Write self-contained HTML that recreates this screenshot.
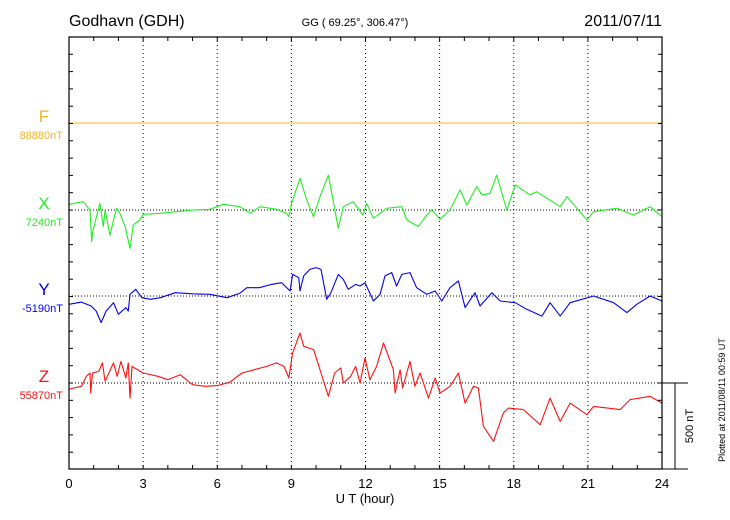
<!DOCTYPE html>
<html><head><meta charset="utf-8"><style>
body{margin:0;background:#fff}
svg{display:block;font-family:"Liberation Sans",sans-serif}
</style></head><body>
<svg id="chart" width="730" height="520">
<text x="69" y="26" font-size="16">Godhavn (GDH)</text>
<text x="355" y="26" font-size="11" text-anchor="middle">GG ( 69.25°, 306.47°)</text>
<text x="662" y="26" font-size="16" text-anchor="end">2011/07/11</text>
<text x="365" y="503" font-size="13" text-anchor="middle">U T (hour)</text>
<text transform="translate(725,400) rotate(-90)" font-size="9" text-anchor="middle">Plotted at 2011/08/11 00:59 UT</text>
<text transform="translate(693,426) rotate(-90)" font-size="11" text-anchor="middle">500 nT</text>
<g id="grid"></g><g id="series"></g><g id="axes"></g>
</svg>
<script>
const xTicks=[0,3,6,9,12,15,18,21,24];
const comps=["F","X","Y","Z"];
const baseLabels=["88880nT","7240nT","-5190nT","55870nT"];
const fT=[0,24];
const fV=[0,0];
const xT=[0,0.58,0.85,0.92,0.96,1.25,1.39,1.46,1.66,1.8,1.93,2.06,2.27,2.47,2.6,2.87,3.0,3.68,4.36,5.03,5.7,6.25,6.92,7.33,7.73,8.4,8.8,8.9,9.01,9.35,9.6,9.89,10.16,10.5,10.9,11.1,11.5,11.9,12.05,12.32,12.86,13.47,13.67,14.14,14.48,14.68,15.02,15.42,15.83,16.1,16.5,16.71,17.04,17.31,17.72,18.06,18.66,18.93,19.88,20.15,20.96,21.23,22.17,22.85,23.52,24];
const xV=[33,48,0,-183,-125,39,-96,0,-145,-58,10,-19,-96,-222,-87,-58,-25,-19,-10,0,4,33,19,-19,19,4,-19,-39,39,183,67,-39,77,202,-106,19,48,-29,39,-48,10,19,-58,-96,-29,0,-54,0,116,29,135,87,96,202,0,145,87,106,19,77,-58,-10,10,-29,19,-39];
const yT=[0,0.5,0.9,1.1,1.3,1.5,1.8,2.0,2.3,2.4,2.47,2.7,2.95,3.3,3.7,4.3,5.0,5.7,6.4,6.9,7.2,7.7,8.2,8.6,8.95,9.05,9.3,9.35,9.5,9.75,10.0,10.2,10.43,10.6,10.9,11.1,11.3,11.6,11.78,11.98,12.32,12.59,12.79,13.06,13.26,13.47,13.8,14.07,14.48,14.82,15.09,15.42,15.76,16.03,16.43,16.64,17.11,17.45,18.06,18.53,19.14,19.47,19.88,20.28,21.23,22.04,22.58,22.98,23.52,24];
const yV=[-48,-35,-58,-87,-154,-87,-39,-106,-67,-87,10,39,-10,-19,-10,19,13,10,-10,15,48,48,67,77,29,125,106,29,116,154,164,154,-19,19,125,96,39,67,58,77,-29,10,116,135,58,125,135,48,10,29,-29,48,87,-67,19,-58,19,-29,-39,-77,-116,-39,-116,-39,0,-39,-96,-48,0,-29];
const zT=[0,0.5,0.7,0.85,0.88,0.95,1.2,1.35,1.46,1.8,1.95,2.1,2.3,2.4,2.47,2.55,3.0,3.6,4.0,4.5,5.0,5.5,6.0,6.5,7.0,7.5,8.0,8.4,8.7,8.9,9.05,9.35,9.5,9.9,10.2,10.5,10.75,11.0,11.1,11.4,11.6,11.78,11.98,12.18,12.45,12.73,13.13,13.2,13.4,13.5,13.8,14.0,14.21,14.55,14.82,15.02,15.42,15.76,16.03,16.37,16.57,16.77,17.18,17.58,17.78,18.39,19.07,19.47,19.88,20.28,20.96,21.23,22.31,22.71,23.52,24];
const zV=[-35,-19,39,58,-58,58,67,116,10,116,39,125,29,116,-87,96,58,39,19,48,-10,-19,-15,4,58,77,96,116,96,29,173,289,212,193,58,-77,58,87,0,39,96,0,145,19,96,231,77,-58,77,-29,125,-19,58,-87,29,-58,-19,58,-116,-19,-29,-250,-337,-173,-145,-154,-241,-87,-222,-116,-183,-135,-154,-96,-77,-116];
const seriesT=[fT,xT,yT,zT], seriesV=[fV,xV,yV,zV];
const colors=["#f5b324","#22ee22","#0000ee","#ff1010"];
const L=69,R=662,T=37,B=469,bases=[123,210,296,383],pxPerNT=17.3/100;
const sx=h=>L+(R-L)*h/24;
const sy=(i,v)=>bases[i]-v*pxPerNT;
const NS="http://www.w3.org/2000/svg";
function mk(tag,a,p){const e=document.createElementNS(NS,tag);for(const k in a)e.setAttribute(k,a[k]);p.appendChild(e);return e;}
const g=document.getElementById('grid'),s=document.getElementById('series'),ax=document.getElementById('axes');
xTicks.forEach(h=>{if(h>0&&h<24){const l=mk('line',{x1:sx(h),x2:sx(h),y1:T,y2:B,stroke:'#000','stroke-width':1,'stroke-dasharray':'1,3'},g);

}
const t=mk('text',{x:sx(h),y:488,'font-size':13,'text-anchor':'middle'},ax);t.textContent=h;

});
comps.forEach((c,i)=>{
const l=mk('line',{x1:L,x2:R,y1:bases[i],y2:bases[i],stroke:'#000','stroke-width':1,'stroke-dasharray':'1,2'},g);


const t=mk('text',{x:44,y:bases[i]-1,'font-size':17,'text-anchor':'middle',fill:colors[i]},ax);t.textContent=c;


const b=mk('text',{x:63,y:bases[i]+16,'font-size':11,'text-anchor':'end',fill:colors[i]},ax);b.textContent=baseLabels[i];


const pts=seriesT[i].map((h,j)=>sx(h).toFixed(1)+','+sy(i,seriesV[i][j]).toFixed(1)).join(' ');
const p=mk('polyline',{points:pts,fill:'none',stroke:colors[i],'stroke-width':1.1,'stroke-linejoin':'round'},s);


});
const fr=mk('rect',{x:L,y:T,width:R-L,height:B-T,fill:'none',stroke:'#000','stroke-width':1.2},ax);


for(let h=1;h<24;h++){mk('line',{x1:sx(h),x2:sx(h),y1:T,y2:T+4,stroke:'#000'},ax);mk('line',{x1:sx(h),x2:sx(h),y1:B,y2:B-4,stroke:'#000'},ax);}
for(let y=T;y<B;y+=17.3){mk('line',{x1:L,x2:L+4,y1:y,y2:y,stroke:'#000'},ax);mk('line',{x1:R,x2:R-4,y1:y,y2:y,stroke:'#000'},ax);}
const sb=mk('g',{},ax);


mk('line',{x1:R,x2:688,y1:383,y2:383,stroke:'#000'},sb);
mk('line',{x1:R,x2:688,y1:B,y2:B,stroke:'#000'},sb);
mk('line',{x1:675,x2:675,y1:383,y2:B,stroke:'#000'},sb);
</script>
</body></html>
